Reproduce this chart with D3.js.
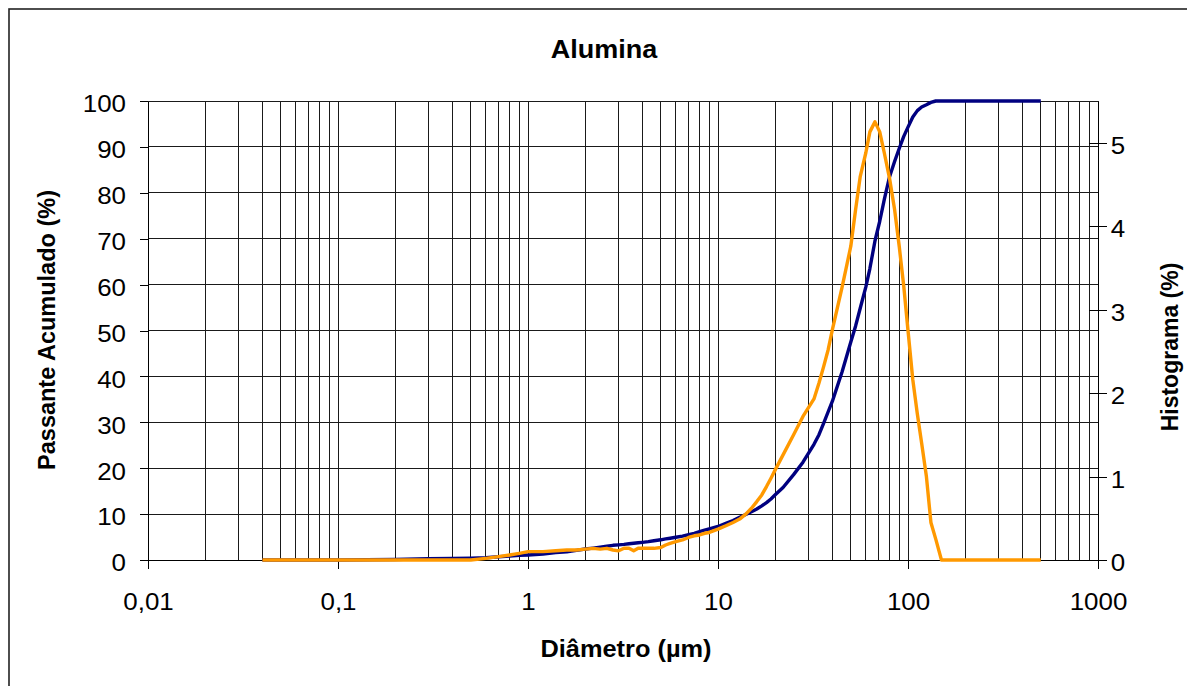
<!DOCTYPE html>
<html>
<head>
<meta charset="utf-8">
<script src="https://cdn.jsdelivr.net/npm/d3@7/dist/d3.min.js"></script>
<style>
  html, body { margin: 0; padding: 0; background: #fff; }
  svg { display: block; font-family: "Liberation Sans", Arial, sans-serif; }
</style>
</head>
<body>
<svg id="chart" width="1187" height="686"></svg>
<script>
// Particle size distribution of alumina: cumulative passing and histogram
const diameters = [0.04, 0.07, 0.1, 0.2, 0.3, 0.4, 0.5, 0.6, 0.7, 0.8, 0.9, 1.0, 1.2, 1.4, 1.6, 1.8,
  2.0, 2.2, 2.4, 2.6, 2.8, 3.0, 3.2, 3.4, 3.6, 3.8, 4.0, 4.3, 4.6, 5.0, 5.3, 5.6, 6.0, 6.5,
  7.0, 7.5, 8.0, 8.5, 9.0, 10, 11, 12, 13, 14, 15, 16, 17, 18, 19, 20, 22, 25, 28, 32, 34,
  36, 38, 40, 45, 50, 53, 56, 60, 63, 67, 71, 75, 80, 85, 90, 95, 100, 106, 112, 118, 125,
  132, 140, 150, 160, 180, 200, 250, 300, 400, 500];

const passingCumulative = [0, 0, 0, 0.1, 0.3, 0.35, 0.4, 0.5, 0.7, 0.85, 1.0, 1.1, 1.3, 1.6, 1.8, 2.1,
  2.4, 2.6, 2.8, 3.0, 3.2, 3.3, 3.4, 3.55, 3.65, 3.75, 3.85, 4.0, 4.2, 4.4, 4.6, 4.75, 4.95, 5.2,
  5.5, 5.8, 6.2, 6.5, 6.8, 7.3, 8.0, 8.6, 9.3, 9.9, 10.5, 11.1, 11.8, 12.5, 13.3, 14.2, 15.8, 18.6, 21.3, 25.2, 27.3,
  29.8, 32.3, 34.6, 41.0, 47.5, 51.0, 54.8, 59.5, 63.5, 69.5, 73.8, 78.5, 83.5, 86.8, 89.7, 92.3, 94.3, 96.5, 97.9, 98.7, 99.2,
  99.7, 100, 100, 100, 100, 100, 100, 100, 100, 100];

const histogram = [0, 0, 0, 0, 0, 0, 0, 0.02, 0.04, 0.06, 0.08, 0.10, 0.10, 0.11, 0.12, 0.12,
  0.13, 0.14, 0.13, 0.14, 0.12, 0.11, 0.14, 0.14, 0.11, 0.14, 0.14, 0.14, 0.14, 0.15, 0.18, 0.20, 0.22, 0.24,
  0.27, 0.29, 0.30, 0.32, 0.33, 0.37, 0.41, 0.45, 0.49, 0.55, 0.62, 0.70, 0.78, 0.88, 0.98, 1.08, 1.26, 1.50, 1.72, 1.93, 2.12,
  2.32, 2.52, 2.76, 3.27, 3.76, 4.20, 4.59, 4.88, 5.13, 5.25, 5.13, 4.88, 4.57, 4.20, 3.75, 3.28, 2.75, 2.16, 1.75, 1.40, 1.00,
  0.45, 0.25, 0, 0, 0, 0, 0, 0, 0, 0];

const xTickValues = [0.01, 0.1, 1, 10, 100, 1000];
const xTickLabels = ["0,01", "0,1", "1", "10", "100", "1000"];
const leftTicks = [0, 10, 20, 30, 40, 50, 60, 70, 80, 90, 100];
const rightTicks = [0, 1, 2, 3, 4, 5];

const chartTitle = "Alumina";
const xTitle = "Diâmetro (µm)";
const leftTitle = "Passante Acumulado (%)";
const rightTitle = "Histograma (%)";

const svg = d3.select("#chart");
const plot = { left: 148, right: 1098, top: 101, bottom: 560 };
const stretch = 1.08;

const x = d3.scaleLog().domain([0.01, 1000]).range([plot.left, plot.right]);
const yL = d3.scaleLinear().domain([0, 100]).range([plot.bottom, plot.top]);
const yR = d3.scaleLinear().domain([0, 5.5]).range([plot.bottom, plot.top]);

// outer chart frame
svg.append("rect")
  .attr("x", 9).attr("y", 9).attr("width", 1250).attr("height", 720)
  .attr("fill", "none").attr("stroke", "#222").attr("stroke-width", 1.6);

// grid
const grid = svg.append("g").attr("stroke", "#1a1a1a").attr("stroke-width", 1)
  .attr("shape-rendering", "crispEdges");
const minorX = [];
for (let e = -2; e < 3; e++) for (let m = 1; m < 10; m++) minorX.push(m * Math.pow(10, e));
minorX.push(1000);
grid.selectAll("line.v").data(minorX).join("line")
  .attr("x1", d => x(d)).attr("x2", d => x(d))
  .attr("y1", plot.top).attr("y2", plot.bottom);
grid.selectAll("line.h").data(leftTicks).join("line")
  .attr("x1", plot.left).attr("x2", plot.right)
  .attr("y1", d => yL(d)).attr("y2", d => yL(d));

// axes
const fontSize = 24;
const leftAxis = svg.append("g").attr("transform", `translate(${plot.left},0)`)
  .call(d3.axisLeft(yL).tickValues(leftTicks).tickSizeInner(8).tickSizeOuter(0).tickPadding(12.4));
const bottomAxis = svg.append("g").attr("transform", `translate(0,${plot.bottom})`)
  .call(d3.axisBottom(x).tickValues(xTickValues).tickFormat((d, i) => xTickLabels[i])
    .tickSizeInner(9).tickSizeOuter(0).tickPadding(24));
const rightAxis = svg.append("g").attr("transform", `translate(${plot.right},0)`)
  .call(d3.axisRight(yR).tickValues(rightTicks).tickFormat(d3.format("d"))
    .tickSizeInner(9).tickSizeOuter(0).tickPadding(2.8));
rightAxis.selectAll(".tick line").attr("x1", -9);

[leftAxis, bottomAxis, rightAxis].forEach(g => {
  g.selectAll("path, line").attr("stroke", "#000").attr("stroke-width", 1)
    .attr("shape-rendering", "crispEdges");
  g.selectAll("text").attr("font-size", fontSize).attr("fill", "#000")
    .attr("font-family", "'Liberation Sans', Arial, sans-serif")
    .attr("transform", `scale(${stretch},1)`);
});
leftAxis.selectAll("text").attr("dy", "0.45em");
rightAxis.selectAll("text").attr("dy", "0.45em");

// series
const pts = diameters.map((d, i) => ({ d, p: passingCumulative[i], h: histogram[i] }));
svg.append("path").datum(pts)
  .attr("fill", "none").attr("stroke", "#000080").attr("stroke-width", 3.4)
  .attr("stroke-linejoin", "round")
  .attr("d", d3.line().x(v => x(v.d)).y(v => yL(v.p)));
svg.append("path").datum(pts)
  .attr("fill", "none").attr("stroke", "#FF9900").attr("stroke-width", 3.4)
  .attr("stroke-linejoin", "round")
  .attr("d", d3.line().x(v => x(v.d)).y(v => yR(v.h)));

// titles
function hText(str, cx, by, size) {
  svg.append("text")
    .attr("transform", `translate(${cx},${by}) scale(${stretch},1)`)
    .attr("text-anchor", "middle").attr("font-weight", "bold")
    .attr("font-size", size).attr("fill", "#000").text(str);
}
hText(chartTitle, 604, 58, 25);
hText(xTitle, 626, 657, 23.5);

svg.append("text")
  .attr("transform", "translate(55,330) rotate(-90)")
  .attr("text-anchor", "middle").attr("font-weight", "bold")
  .attr("font-size", 23.5).attr("fill", "#000").text(leftTitle);
svg.append("text")
  .attr("transform", "translate(1178,347) rotate(-90)")
  .attr("text-anchor", "middle").attr("font-weight", "bold")
  .attr("font-size", 23).attr("fill", "#000").text(rightTitle);
</script>
</body>
</html>
